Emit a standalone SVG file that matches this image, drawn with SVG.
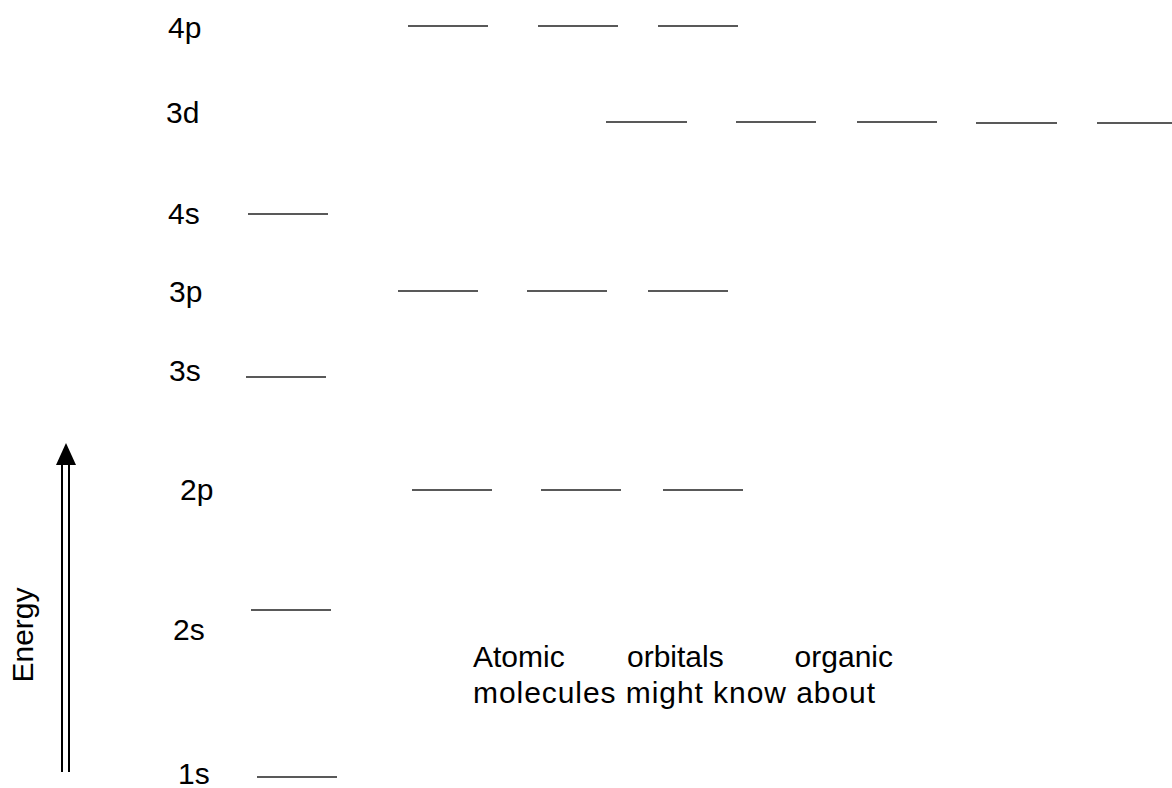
<svg xmlns="http://www.w3.org/2000/svg" width="1172" height="788" viewBox="0 0 1172 788">
<style>
.lbl{font-family:"Liberation Sans",Arial,sans-serif;font-size:30px;fill:#000}
.lvl{stroke:#222;stroke-width:1.5;fill:none}
.ax{stroke:#000;stroke-width:2;fill:none}
</style>
<rect width="1172" height="788" fill="#fff"/>
<g id="connectors">
<line class="ax" x1="62" y1="462" x2="62" y2="772"/>
<line class="ax" x1="69" y1="462" x2="69" y2="772"/>
<polygon points="66,443 56,465 76,465" fill="#000"/>
</g>
<g id="energy"><text class="lbl" transform="translate(33,635) rotate(-90)" text-anchor="middle">Energy</text></g>
<g id="n4p"><text class="lbl" x="168" y="38">4p</text>
<line class="lvl" x1="408" y1="26" x2="488" y2="26"/><line class="lvl" x1="538" y1="26" x2="618" y2="26"/><line class="lvl" x1="658" y1="26" x2="738" y2="26"/></g>
<g id="n3d"><text class="lbl" x="166" y="123">3d</text>
<line class="lvl" x1="606" y1="122" x2="687" y2="122"/><line class="lvl" x1="736" y1="122" x2="816" y2="122"/><line class="lvl" x1="857" y1="122" x2="937" y2="122"/><line class="lvl" x1="976" y1="123" x2="1057" y2="123"/><line class="lvl" x1="1097" y1="123" x2="1172" y2="123"/></g>
<g id="n4s"><text class="lbl" x="168" y="224">4s</text>
<line class="lvl" x1="248" y1="214" x2="328" y2="214"/></g>
<g id="n3p"><text class="lbl" x="169" y="302">3p</text>
<line class="lvl" x1="398" y1="291" x2="478" y2="291"/><line class="lvl" x1="527" y1="291" x2="607" y2="291"/><line class="lvl" x1="648" y1="291" x2="728" y2="291"/></g>
<g id="n3s"><text class="lbl" x="169" y="381">3s</text>
<line class="lvl" x1="246" y1="377" x2="326" y2="377"/></g>
<g id="n2p"><text class="lbl" x="180" y="500">2p</text>
<line class="lvl" x1="412" y1="490" x2="492" y2="490"/><line class="lvl" x1="541" y1="490" x2="621" y2="490"/><line class="lvl" x1="663" y1="490" x2="743" y2="490"/></g>
<g id="n2s"><text class="lbl" x="173" y="640">2s</text>
<line class="lvl" x1="251" y1="610" x2="331" y2="610"/></g>
<g id="n1s"><text class="lbl" x="178" y="784">1s</text>
<line class="lvl" x1="257" y1="777" x2="337" y2="777"/></g>
<g id="caption">
<text class="lbl" x="473" y="667">Atomic</text>
<text class="lbl" x="627" y="667">orbitals</text>
<text class="lbl" x="893" y="667" text-anchor="end">organic</text>
<text class="lbl" x="473" y="703" textLength="402" lengthAdjust="spacing">molecules might know about</text>
</g>
</svg>
